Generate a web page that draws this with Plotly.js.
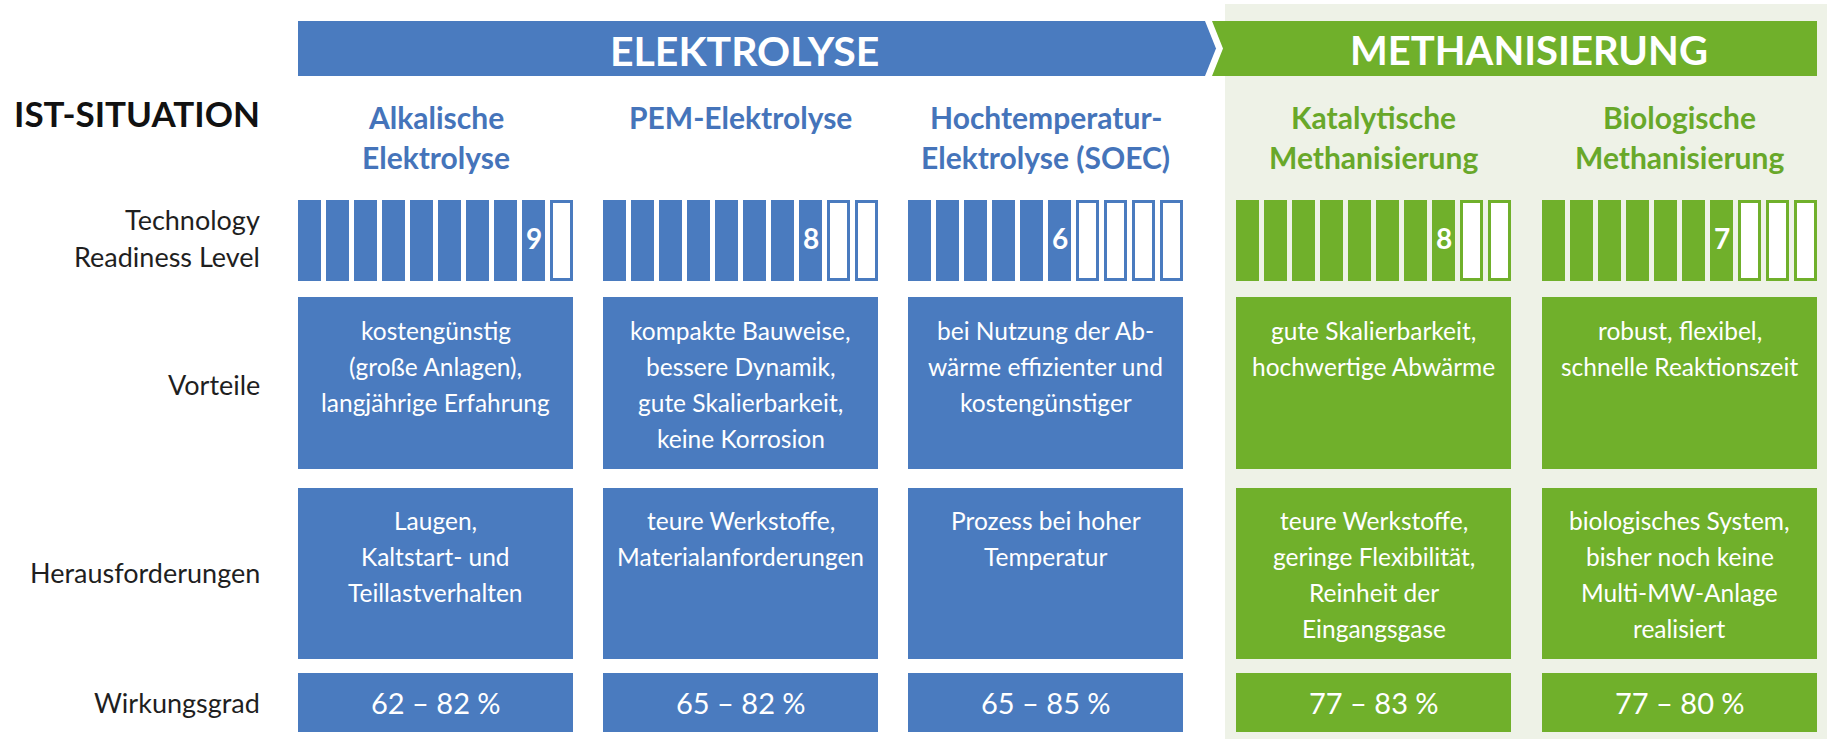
<!DOCTYPE html>
<html>
<head>
<meta charset="utf-8">
<script src="https://cdn.plot.ly/plotly-3.0.1.min.js"></script>
<style>
  html, body { margin: 0; padding: 0; background: #ffffff; }
  #chart { width: 1827px; height: 739px; }
</style>
</head>
<body>
<div id="chart"></div>
<script>
// ---------------- DATA ----------------
const sectionTitle = "IST-SITUATION";
const groupNames = ["ELEKTROLYSE", "METHANISIERUNG"];
const technologies = [
  ["Alkalische", "Elektrolyse"],
  ["PEM-Elektrolyse"],
  ["Hochtemperatur-", "Elektrolyse (SOEC)"],
  ["Katalytische", "Methanisierung"],
  ["Biologische", "Methanisierung"]
];
const techGroup = [0, 0, 0, 1, 1];
const trlLevels = [9, 8, 6, 8, 7];
const trlMax = 10;
const rowLabels = [
  ["Technology", "Readiness Level"],
  ["Vorteile"],
  ["Herausforderungen"],
  ["Wirkungsgrad"]
];
const vorteile = [
  ["kostengünstig", "(große Anlagen),", "langjährige Erfahrung"],
  ["kompakte Bauweise,", "bessere Dynamik,", "gute Skalierbarkeit,", "keine Korrosion"],
  ["bei Nutzung der Ab-", "wärme effizienter und", "kostengünstiger"],
  ["gute Skalierbarkeit,", "hochwertige Abwärme"],
  ["robust, flexibel,", "schnelle Reaktionszeit"]
];
const herausforderungen = [
  ["Laugen,", "Kaltstart- und", "Teillastverhalten"],
  ["teure Werkstoffe,", "Materialanforderungen"],
  ["Prozess bei hoher", "Temperatur"],
  ["teure Werkstoffe,", "geringe Flexibilität,", "Reinheit der", "Eingangsgase"],
  ["biologisches System,", "bisher noch keine", "Multi-MW-Anlage", "realisiert"]
];
const wirkungsgrad = ["62 – 82 %", "65 – 82 %", "65 – 85 %", "77 – 83 %", "77 – 80 %"];

// ---------------- STYLE / LAYOUT CONSTANTS ----------------
const W = 1827, H = 739;
const groupColors = ["#4a7bbf", "#70b02b"];
const titleColors = ["#4574ba", "#68a82a"];
const panelColor = "#eef2e7";
const labelColor = "#1f1f1f";
const FONT = "Lato, 'Open Sans', sans-serif";

const colLeft = [298, 603, 908, 1236, 1542];
const colWidth = 275;
const segPitch = 28, segWidth = 23;
const trlTop = 200, trlBottom = 281;
const rowVort = [297, 469];
const rowHer = [488, 659];
const rowWirk = [673, 732];
const lineGap = 36;

// ---------------- BUILD ----------------
const shapes = [];
const annotations = [];

// light panel behind Methanisierung
shapes.push({type: "rect", xref: "x", yref: "y", x0: 1225, x1: W, y0: 4, y1: H,
  fillcolor: panelColor, line: {width: 0}, layer: "below"});

// banners
shapes.push({type: "path", xref: "x", yref: "y", layer: "below",
  path: "M298,21 L1205,21 L1216,48.5 L1205,76 L298,76 Z",
  fillcolor: groupColors[0], line: {width: 0}});
shapes.push({type: "path", xref: "x", yref: "y", layer: "below",
  path: "M1212,21 L1817,21 L1817,76 L1212,76 L1223,48.5 Z",
  fillcolor: groupColors[1], line: {width: 0}});

annotations.push({x: 744, y: 50, text: "<b>" + groupNames[0] + "</b>", showarrow: false,
  xanchor: "center", yanchor: "middle", font: {family: FONT, size: 41, color: "#ffffff"}});
annotations.push({x: 1529, y: 50, text: "<b>" + groupNames[1] + "</b>", showarrow: false,
  xanchor: "center", yanchor: "middle", font: {family: FONT, size: 40, color: "#ffffff"}});

// section title
annotations.push({x: 262, y: 113, text: "<b>" + sectionTitle + "</b>", showarrow: false,
  xanchor: "right", yanchor: "middle", font: {family: FONT, size: 35, color: "#111111"}});

// row labels
const rowLabelY = [[219, 256], [384], [572], [702]];
rowLabels.forEach((lines, r) => {
  lines.forEach((t, i) => {
    annotations.push({x: 262, y: rowLabelY[r][i], text: t, showarrow: false,
      xanchor: "right", yanchor: "middle", font: {family: FONT, size: 27, color: labelColor}});
  });
});

function addLines(lines, cx, y0, color, size, bold) {
  lines.forEach((t, i) => {
    annotations.push({x: cx, y: y0 + i * lineGap, text: bold ? "<b>" + t + "</b>" : t,
      showarrow: false, xanchor: "center", yanchor: "middle",
      font: {family: FONT, size: size, color: color}});
  });
}

// TRL bars from data
const fx = [], fw = [], fc = [];
const ex = [], ew = [], ec = [];
technologies.forEach((tech, c) => {
  const g = techGroup[c];
  const col = groupColors[g];
  const cx = colLeft[c] + colWidth / 2;

  // header
  const hy = [117, 157];
  tech.forEach((t, i) => {
    annotations.push({x: cx, y: hy[i], text: "<b>" + t + "</b>", showarrow: false,
      xanchor: "center", yanchor: "middle", font: {family: FONT, size: 30, color: titleColors[g]}});
  });

  for (let k = 0; k < trlMax; k++) {
    const sx = colLeft[c] + k * segPitch + segWidth / 2;
    if (k < trlLevels[c]) { fx.push(sx); fw.push(segWidth); fc.push(col); }
    else { ex.push(sx); ew.push(segWidth - 3); ec.push(col); }
  }
  const lx = colLeft[c] + (trlLevels[c] - 1) * segPitch + segWidth / 2;
  annotations.push({x: lx, y: 238, text: "<b>" + trlLevels[c] + "</b>", showarrow: false,
    xanchor: "center", yanchor: "middle", font: {family: FONT, size: 28, color: "#ffffff"}});

  // boxes
  [rowVort, rowHer, rowWirk].forEach(r => {
    shapes.push({type: "rect", xref: "x", yref: "y", x0: colLeft[c], x1: colLeft[c] + colWidth,
      y0: r[0], y1: r[1], fillcolor: col, line: {width: 0}, layer: "below"});
  });

  addLines(vorteile[c], cx, rowVort[0] + 33, "#ffffff", 24.5, false);
  addLines(herausforderungen[c], cx, rowHer[0] + 32, "#ffffff", 24.5, false);
  addLines([wirkungsgrad[c]], cx, (rowWirk[0] + rowWirk[1]) / 2, "#ffffff", 29, false);
});

const traces = [
  {type: "bar", x: fx, y: fx.map(() => trlBottom - trlTop), base: trlTop, width: fw,
   marker: {color: fc, line: {width: 0}}, hoverinfo: "skip", showlegend: false},
  {type: "bar", x: ex, y: ex.map(() => trlBottom - trlTop - 3), base: trlTop + 1.5, width: ew,
   marker: {color: "#ffffff", line: {width: 3, color: ec}}, hoverinfo: "skip", showlegend: false}
];

const layout = {
  width: W, height: H,
  margin: {l: 0, r: 0, t: 0, b: 0, pad: 0},
  paper_bgcolor: "#ffffff", plot_bgcolor: "rgba(0,0,0,0)",
  barmode: "overlay",
  showlegend: false,
  xaxis: {range: [0, W], visible: false, fixedrange: true},
  yaxis: {range: [H, 0], visible: false, fixedrange: true},
  shapes: shapes,
  annotations: annotations,
  hovermode: false
};

Plotly.newPlot("chart", traces, layout, {displayModeBar: false, staticPlot: true});
</script>
</body>
</html>
